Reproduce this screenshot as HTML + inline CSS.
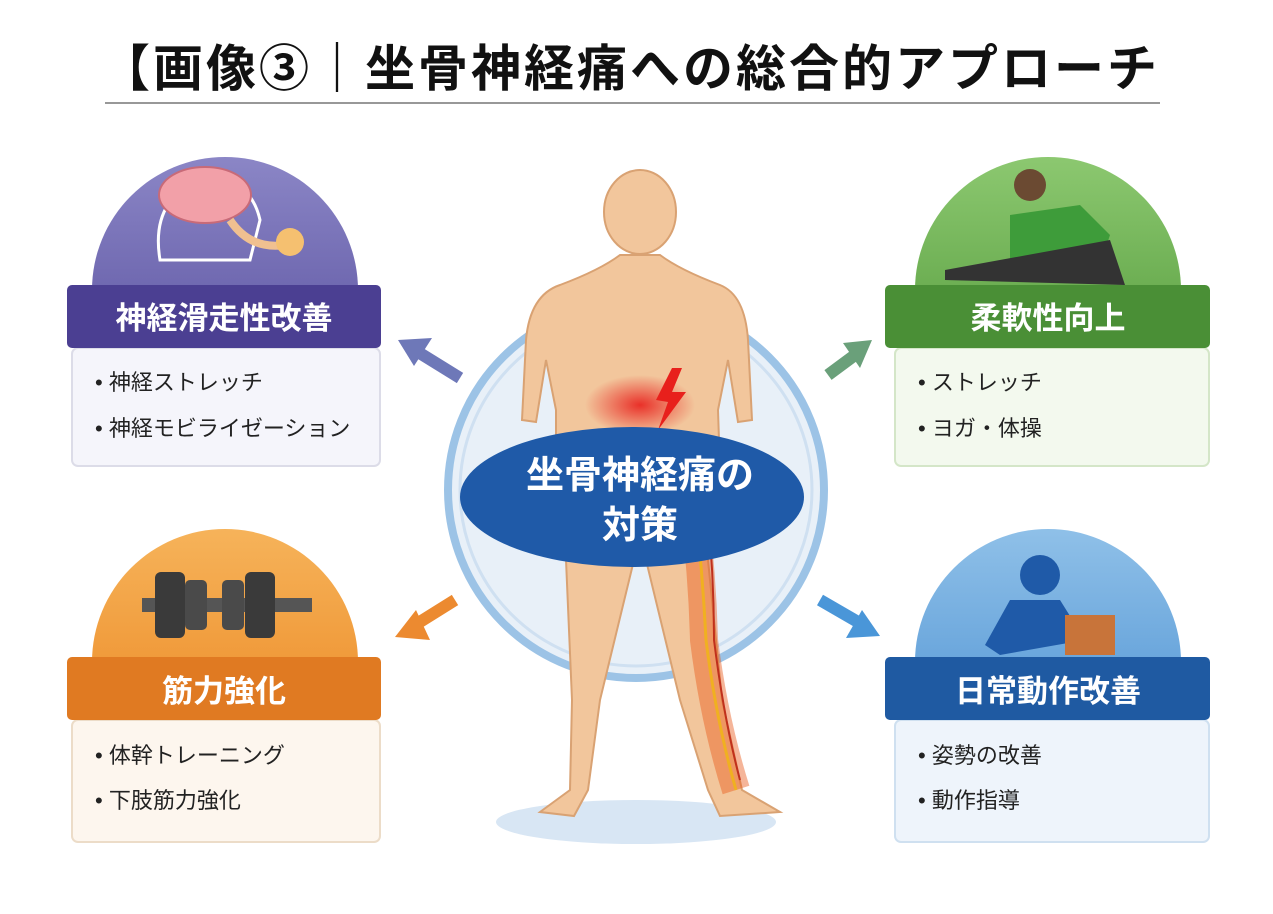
<!DOCTYPE html>
<html><head><meta charset="utf-8"><style>
body{margin:0;width:1273px;height:909px;background:#fff;overflow:hidden;font-family:"Liberation Sans","Noto Sans CJK JP",sans-serif}
</style></head><body>
<svg width="1273" height="909" viewBox="0 0 1273 909" xmlns="http://www.w3.org/2000/svg" font-family="Liberation Sans, Noto Sans CJK JP, sans-serif">
<defs>
<radialGradient id="pain" cx="0.5" cy="0.5" r="0.5"><stop offset="0" stop-color="#e8201c" stop-opacity="0.9"/><stop offset="1" stop-color="#e8201c" stop-opacity="0"/></radialGradient>
<linearGradient id="pg" x1="0" y1="0" x2="0" y2="1"><stop offset="0" stop-color="#8b86c6"/><stop offset="1" stop-color="#6f68b0"/></linearGradient>
<linearGradient id="gg" x1="0" y1="0" x2="0" y2="1"><stop offset="0" stop-color="#8cc870"/><stop offset="1" stop-color="#6cae52"/></linearGradient>
<linearGradient id="og" x1="0" y1="0" x2="0" y2="1"><stop offset="0" stop-color="#f6b35a"/><stop offset="1" stop-color="#f09a3a"/></linearGradient>
<linearGradient id="bg" x1="0" y1="0" x2="0" y2="1"><stop offset="0" stop-color="#8fc0e8"/><stop offset="1" stop-color="#6aa6dc"/></linearGradient>
</defs>
<text x="630" y="86" text-anchor="middle" font-size="50" font-weight="bold" letter-spacing="3" fill="#111">【画像③｜坐骨神経痛への総合的アプローチ</text>
<line x1="105" y1="103" x2="1160" y2="103" stroke="#777" stroke-width="1.5"/>

<circle cx="636" cy="490" r="188" fill="#e8f0f8" stroke="#9cc3e6" stroke-width="8"/>
<circle cx="636" cy="490" r="176" fill="none" stroke="#cfe0f1" stroke-width="3"/>
<ellipse cx="636" cy="822" rx="140" ry="22" fill="#d8e6f4"/>

<g fill="#f2c69c" stroke="#d9a273" stroke-width="2">
<ellipse cx="640" cy="212" rx="36" ry="42"/>
<path d="M560 285 Q600 270 620 255 L660 255 Q680 270 720 285 Q745 295 748 340 L752 420 L738 422 L728 360 L718 410 L720 470 L708 560 L722 700 L742 790 L780 812 L720 816 L708 790 L680 700 L646 560 L640 540 L634 560 L600 700 L588 790 L574 816 L540 812 L570 790 L572 700 L566 560 L556 470 L556 410 L546 360 L536 422 L522 420 L526 340 Q530 295 560 285 Z"/>
</g>
<ellipse cx="640" cy="405" rx="55" ry="30" fill="url(#pain)"/>
<path d="M672 368 L656 400 L668 402 L658 430 L686 392 L672 392 L682 368 Z" fill="#e8201c"/>
<path d="M690 480 Q702 560 704 640 Q714 720 736 790" stroke="#e85a1c" stroke-width="28" fill="none" opacity="0.45"/>
<path d="M692 480 Q702 560 706 640 Q716 720 736 790" stroke="#f0b020" stroke-width="3" fill="none"/>
<path d="M704 480 Q714 560 714 640 Q724 720 740 780" stroke="#c0301c" stroke-width="2" fill="none"/>

<ellipse cx="632" cy="497" rx="172" ry="70" fill="#1f5aa8"/>
<text x="640" y="488" text-anchor="middle" font-size="38" font-weight="bold" fill="#fff">坐骨神経痛の</text>
<text x="640" y="538" text-anchor="middle" font-size="38" font-weight="bold" fill="#fff">対策</text>

<g stroke-width="12" fill="none">
<line x1="460" y1="378" x2="418" y2="352" stroke="#6e78b8"/>
<line x1="828" y1="375" x2="855" y2="355" stroke="#6aa07a"/>
<line x1="455" y1="600" x2="415" y2="625" stroke="#ec8a30"/>
<line x1="820" y1="600" x2="858" y2="622" stroke="#4a96d8"/>
</g>
<polygon points="398,340 432,338 414,366" fill="#6e78b8"/>
<polygon points="872,340 843,343 860,368" fill="#6aa07a"/>
<polygon points="395,637 416,610 430,640" fill="#ec8a30"/>
<polygon points="880,636 846,638 862,610" fill="#4a96d8"/>

<g>
<path d="M92 290 A133 133 0 0 1 358 290 Z" fill="url(#pg)"/>
<path d="M160 260 Q150 200 200 180 Q250 175 260 220 L250 260 Z" fill="none" stroke="#fff" stroke-width="3"/>
<ellipse cx="205" cy="195" rx="46" ry="28" fill="#f2a0a8" stroke="#c86a78" stroke-width="2"/>
<path d="M230 220 Q250 250 285 245" stroke="#f0c090" stroke-width="8" fill="none"/>
<circle cx="290" cy="242" r="14" fill="#f5c070"/>
<rect x="72" y="348" width="308" height="118" rx="6" fill="#f5f5fb" stroke="#dcdce8" stroke-width="2"/>
<rect x="67" y="285" width="314" height="63" rx="5" fill="#4b3f92"/>
<text x="224" y="329" text-anchor="middle" font-size="31" font-weight="bold" fill="#fff">神経滑走性改善</text>
<text x="95" y="390" font-size="22" fill="#222">• 神経ストレッチ</text>
<text x="95" y="436" font-size="22" fill="#222">• 神経モビライゼーション</text>
</g>
<g>
<path d="M915 290 A133 133 0 0 1 1181 290 Z" fill="url(#gg)"/>
<circle cx="1030" cy="185" r="16" fill="#6b4a32"/>
<path d="M1010 215 L1080 205 L1110 235 L1100 265 L1010 260 Z" fill="#3e9c3a"/>
<path d="M945 270 L1110 240 L1125 285 L945 280 Z" fill="#333"/>
<rect x="895" y="348" width="314" height="118" rx="6" fill="#f3f9ee" stroke="#d4e6c8" stroke-width="2"/>
<rect x="885" y="285" width="325" height="63" rx="5" fill="#4a8f36"/>
<text x="1048" y="329" text-anchor="middle" font-size="31" font-weight="bold" fill="#fff">柔軟性向上</text>
<text x="918" y="390" font-size="22" fill="#222">• ストレッチ</text>
<text x="918" y="436" font-size="22" fill="#222">• ヨガ・体操</text>
</g>
<g>
<path d="M92 662 A133 133 0 0 1 358 662 Z" fill="url(#og)"/>
<rect x="142" y="598" width="170" height="14" fill="#555"/>
<rect x="155" y="572" width="30" height="66" rx="6" fill="#3a3a3a"/>
<rect x="185" y="580" width="22" height="50" rx="5" fill="#4a4a4a"/>
<rect x="245" y="572" width="30" height="66" rx="6" fill="#3a3a3a"/>
<rect x="222" y="580" width="22" height="50" rx="5" fill="#4a4a4a"/>
<rect x="72" y="720" width="308" height="122" rx="6" fill="#fdf6ee" stroke="#ecdcc8" stroke-width="2"/>
<rect x="67" y="657" width="314" height="63" rx="5" fill="#e07a22"/>
<text x="224" y="702" text-anchor="middle" font-size="31" font-weight="bold" fill="#fff">筋力強化</text>
<text x="95" y="763" font-size="22" fill="#222">• 体幹トレーニング</text>
<text x="95" y="808" font-size="22" fill="#222">• 下肢筋力強化</text>
</g>
<g>
<path d="M915 662 A133 133 0 0 1 1181 662 Z" fill="url(#bg)"/>
<circle cx="1040" cy="575" r="20" fill="#1f5aa8"/>
<path d="M1010 600 L1060 600 L1085 640 L1000 655 L985 645 Z" fill="#1f5aa8"/>
<rect x="1065" y="615" width="50" height="40" fill="#c8743a"/>
<rect x="895" y="720" width="314" height="122" rx="6" fill="#eef4fb" stroke="#cfe0f0" stroke-width="2"/>
<rect x="885" y="657" width="325" height="63" rx="5" fill="#1f5aa2"/>
<text x="1048" y="702" text-anchor="middle" font-size="31" font-weight="bold" fill="#fff">日常動作改善</text>
<text x="918" y="763" font-size="22" fill="#222">• 姿勢の改善</text>
<text x="918" y="808" font-size="22" fill="#222">• 動作指導</text>
</g>
</svg>
</body></html>
